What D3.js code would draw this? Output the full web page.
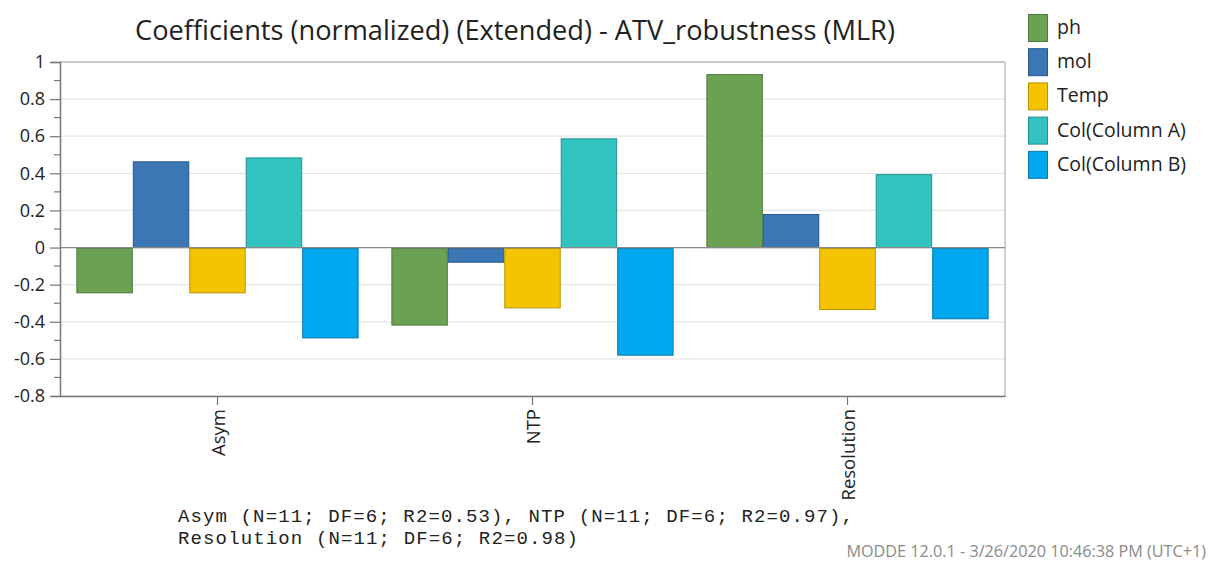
<!DOCTYPE html>
<html>
<head>
<meta charset="utf-8">
<script src="https://cdn.jsdelivr.net/npm/d3@7"></script>
<style>
  body { margin: 0; background: #fff; }
  svg { display: block; }
</style>
</head>
<body>
<svg id="chart" width="1210" height="561"></svg>
<script>
// chart data
const categories = ["Asym", "NTP", "Resolution"];
const seriesNames = ["ph", "mol", "Temp", "Col(Column A)", "Col(Column B)"];
const phValues = [-0.244, -0.418, 0.932];
const molValues = [0.462, -0.079, 0.178];
const tempValues = [-0.244, -0.325, -0.334];
const colAValues = [0.483, 0.586, 0.393];
const colBValues = [-0.487, -0.580, -0.384];
const yTicks = [-0.8, -0.6, -0.4, -0.2, 0, 0.2, 0.4, 0.6, 0.8, 1];
const fitNotes = ["Asym (N=11; DF=6; R2=0.53), NTP (N=11; DF=6; R2=0.97),",
                  "Resolution (N=11; DF=6; R2=0.98)"];
const titleText = "Coefficients (normalized) (Extended) - ATV_robustness (MLR)";
const footerText = "MODDE 12.0.1 - 3/26/2020 10:46:38 PM (UTC+1)";

const fills = ["#6aa153", "#3a77b4", "#f5c400", "#33c3c1", "#00a8f0"];
const strokes = ["#4d7a3b", "#27568a", "#b89300", "#22908e", "#0a78ad"];

const allValues = [phValues, molValues, tempValues, colAValues, colBValues];

const svg = d3.select("#chart");
const margin = { left: 60, right: 1005, top: 62, bottom: 396 };

const x = d3.scaleBand().domain(categories).range([margin.left, margin.right]).padding(0);
// bars inside each group: contiguous, with a gap at both group edges
const xInner = d3.scaleBand().domain(seriesNames).range([0, x.bandwidth()]).paddingInner(0).paddingOuter(0.29);
const y = d3.scaleLinear().domain([-0.8, 1]).range([margin.bottom, margin.top]);

const font = "'Open Sans', 'Noto Sans', sans-serif";

// gridlines
svg.append("g")
  .selectAll("line")
  .data(yTicks)
  .join("line")
  .attr("x1", margin.left).attr("x2", margin.right)
  .attr("y1", d => y(d)).attr("y2", d => y(d))
  .attr("stroke", "#e6e6e6")
  .attr("stroke-width", 1.2);

// plot border (top + right)
svg.append("path")
  .attr("d", `M${margin.left},${y(1)}H${margin.right}V${margin.bottom}`)
  .attr("fill", "none")
  .attr("stroke", "#a0a0a0")
  .attr("stroke-width", 1);

// bars
const rows = [];
categories.forEach((c, i) => {
  seriesNames.forEach((s, j) => rows.push({ cat: c, ser: s, idx: j, v: allValues[j][i] }));
});

svg.append("g")
  .selectAll("rect")
  .data(rows)
  .join("rect")
  .attr("x", d => x(d.cat) + xInner(d.ser) + 0.5)
  .attr("width", xInner.bandwidth() - 1)
  .attr("y", d => d.v >= 0 ? y(d.v) : y(0) + 1)
  .attr("height", d => Math.abs(y(d.v) - y(0)) - (d.v >= 0 ? 0 : 1))
  .attr("fill", d => fills[d.idx])
  .attr("stroke", d => strokes[d.idx])
  .attr("stroke-width", 1);

// zero line
svg.append("line")
  .attr("x1", margin.left).attr("x2", margin.right)
  .attr("y1", y(0)).attr("y2", y(0))
  .attr("stroke", "#8a8a8a")
  .attr("stroke-width", 1.3);

// y axis (plain hyphen for negatives, like the original)
const yAxis = d3.axisLeft(y).tickValues(yTicks).tickSize(10).tickPadding(5)
  .tickFormat(d => String(+d.toFixed(1)));
const gy = svg.append("g").attr("transform", `translate(${margin.left},0)`).call(yAxis);
gy.select(".domain").attr("stroke", "#777").attr("stroke-width", 1.5);
gy.selectAll(".tick line").attr("stroke", "#777").attr("stroke-width", 1.2);
gy.selectAll(".tick text").attr("font-family", font).attr("font-size", 18).attr("fill", "#222");

// minor ticks
const minor = d3.range(-0.7, 1.0, 0.2);
gy.selectAll(".minor")
  .data(minor)
  .join("line")
  .attr("x1", -6).attr("x2", 0)
  .attr("y1", d => y(d)).attr("y2", d => y(d))
  .attr("stroke", "#777")
  .attr("stroke-width", 1.2);

// x axis
const xAxis = d3.axisBottom(x).tickSize(9).tickSizeOuter(0).tickFormat("");
const gx = svg.append("g").attr("transform", `translate(0,${margin.bottom})`).call(xAxis);
gx.select(".domain").attr("stroke", "#777").attr("stroke-width", 1.5);
gx.selectAll(".tick line").attr("stroke", "#777").attr("stroke-width", 1.2);

svg.append("g")
  .selectAll("text")
  .data(categories)
  .join("text")
  .attr("transform", d => `translate(${x(d) + x.bandwidth() / 2 + 7},${margin.bottom + 13}) rotate(-90)`)
  .attr("text-anchor", "end")
  .attr("font-family", font)
  .attr("font-size", 18.5)
  .attr("fill", "#222")
  .text(d => d);

// title
svg.append("text")
  .attr("x", 515).attr("y", 40)
  .attr("text-anchor", "middle")
  .attr("font-family", font)
  .attr("font-size", 27.2)
  .attr("fill", "#222")
  .text(titleText);

// legend
const legend = svg.append("g").attr("transform", "translate(1028,14)");
const li = legend.selectAll("g")
  .data(seriesNames)
  .join("g")
  .attr("transform", (d, i) => `translate(0,${i * 34.2})`);
li.append("rect")
  .attr("x", 0.5).attr("y", 0.5)
  .attr("width", 19).attr("height", 27)
  .attr("fill", (d, i) => fills[i])
  .attr("stroke", (d, i) => strokes[i]);
li.append("text")
  .attr("x", 29).attr("y", 20)
  .attr("font-family", font)
  .attr("font-size", 19.5)
  .attr("fill", "#222")
  .text(d => d);

// fit notes (monospace)
svg.append("g")
  .selectAll("text")
  .data(fitNotes)
  .join("text")
  .attr("x", 178)
  .attr("y", (d, i) => 522 + i * 22)
  .attr("font-family", "'Liberation Mono', 'DejaVu Sans Mono', monospace")
  .attr("font-size", 19)
  .attr("fill", "#222")
  .attr("textLength", d => d.length * 12.5)
  .attr("lengthAdjust", "spacing")
  .text(d => d);

// footer
svg.append("text")
  .attr("x", 1206).attr("y", 557)
  .attr("text-anchor", "end")
  .attr("font-family", font)
  .attr("font-size", 16.2)
  .attr("fill", "#8a8a8a")
  .text(footerText);
</script>
</body>
</html>
